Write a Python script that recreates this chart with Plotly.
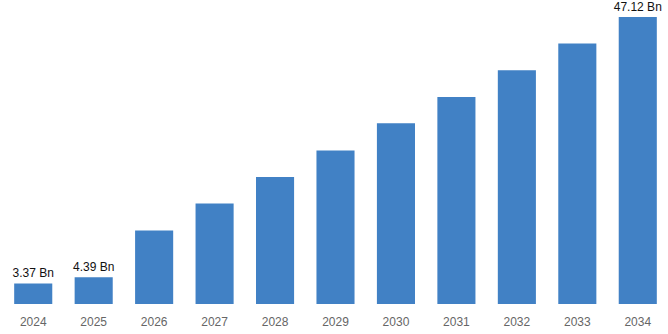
import plotly.graph_objects as go

# Market size by year, USD billions
years = ["2024", "2025", "2026", "2027", "2028", "2029", "2030", "2031", "2032", "2033", "2034"]
values = [3.37, 4.39, 12.08, 16.48, 20.86, 25.21, 29.66, 33.99, 38.39, 42.77, 47.12]
labels = ["3.37 Bn", "4.39 Bn", "", "", "", "", "", "", "", "", "47.12 Bn"]

fig = go.Figure(
    go.Bar(
        x=years,
        y=values,
        text=labels,
        textposition="outside",
        constraintext="none",
        textfont=dict(family="Liberation Sans, Arial, sans-serif", size=12, color="#111111"),
        marker=dict(color="#4181C5", line=dict(width=0)),
        cliponaxis=False,
        hoverinfo="x+y",
    )
)

fig.update_layout(
    width=668,
    height=334,
    margin=dict(l=3, r=0, t=17, b=30),
    paper_bgcolor="white",
    plot_bgcolor="white",
    bargap=0.37,
    showlegend=False,
    xaxis=dict(
        showgrid=False,
        showline=False,
        zeroline=False,
        ticks="",
        ticklabelstandoff=9,
        tickfont=dict(family="Liberation Sans, Arial, sans-serif", size=12, color="#666666"),
    ),
    yaxis=dict(
        range=[0, 47.12],
        visible=False,
        showgrid=False,
        zeroline=False,
    ),
)

fig.write_html("out.html")
